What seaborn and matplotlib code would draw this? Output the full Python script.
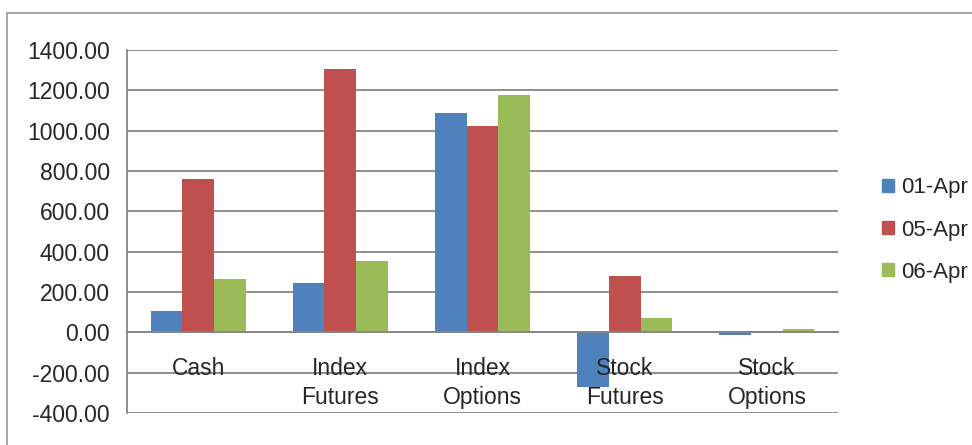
import matplotlib
matplotlib.use("Agg")
import matplotlib.pyplot as plt
import matplotlib.ticker as mticker
from matplotlib.patches import Rectangle
import numpy as np
import pandas as pd
import seaborn as sns

# values
categories = ["Cash", "Index\nFutures", "Index\nOptions", "Stock\nFutures", "Stock\nOptions"]
dates = ["01-Apr", "05-Apr", "06-Apr"]
apr01 = [105, 243, 1088, -273, -12]
apr05 = [762, 1305, 1024, 278, 8]
apr06 = [263, 352, 1177, 71, 16]
colors = ["#4F81BD", "#C0504D", "#9BBB59"]
yticks = np.arange(-400, 1401, 200)

rows = []
for d, vals in zip(dates, [apr01, apr05, apr06]):
    for c, v in zip(categories, vals):
        rows.append({"category": c, "date": d, "value": v})
df = pd.DataFrame(rows)

sns.set_style("white")
plt.rcParams["font.family"] = ["Liberation Sans", "DejaVu Sans"]
grey = "#868686"

fig = plt.figure(figsize=(9.72, 4.45), dpi=100)
ax = fig.add_axes([127/972, 1 - 413/445, (838-127)/972, (413-50)/445])

sns.barplot(data=df, x="category", y="value", hue="date", palette=colors,
            order=categories, hue_order=dates, width=0.667, saturation=1,
            errorbar=None, ax=ax, zorder=1, linewidth=0)

# gridlines behind the bars
for t in yticks:
    ax.axhline(t, color=grey, lw=1.3, zorder=0.5)

ax.set_xlim(-0.5, len(categories) - 0.5)
ax.set_ylim(-400, 1400)
ax.set_yticks(yticks)
ax.yaxis.set_major_formatter(mticker.FormatStrFormatter("%.2f"))
ax.set_xlabel("")
ax.set_ylabel("")

for s in ["top", "right"]:
    ax.spines[s].set_visible(False)
ax.spines["bottom"].set_position(("data", 0))
ax.spines["bottom"].set_color(grey)
ax.spines["left"].set_color(grey)
ax.spines["bottom"].set_linewidth(1.3)
ax.spines["left"].set_linewidth(1.3)

ax.set_xticks(range(len(categories)))
ax.set_xticklabels(categories, fontsize=16.5, linespacing=1.32)
ax.set_xticks(np.arange(-0.5, len(categories), 1), minor=True)
ax.tick_params(axis="x", which="major", length=0, pad=18)
ax.tick_params(axis="x", which="minor", length=7, color=grey, width=1.3, direction="out")
ax.tick_params(axis="y", length=6, color=grey, width=1.3, direction="out", labelsize=16.5, pad=6.5)
ax.set_axisbelow(False)

ax.legend_.remove()
handles = [Rectangle((0, 0), 1, 1, color=c) for c in colors]
fig.legend(handles, dates, loc="center left", bbox_to_anchor=(882/972, 1 - 230/445),
           frameon=False, fontsize=16, handlelength=0.55, handleheight=0.55,
           handletextpad=0.3, labelspacing=0.95, borderpad=0, borderaxespad=0)

# outer chart border
fig.add_artist(Rectangle((7/972, -0.1), 1.2, 1.1 - 13/445, transform=fig.transFigure,
                         fill=False, edgecolor="#A0A0A0", lw=1.3))

fig.savefig("out.png", dpi=100)
